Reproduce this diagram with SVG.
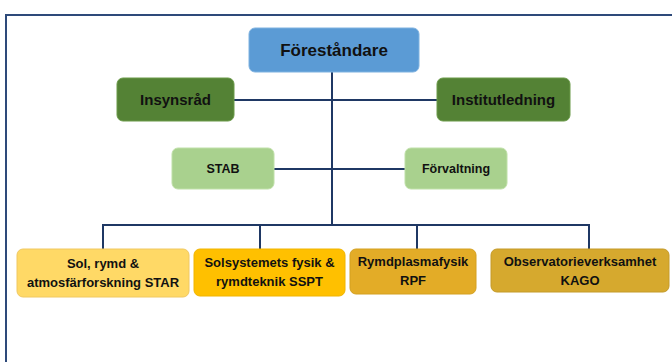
<svg xmlns="http://www.w3.org/2000/svg" width="672" height="362" viewBox="0 0 672 362">
<style>
.t{font-family:"Liberation Sans Narrow","Liberation Sans",Arial,sans-serif;font-weight:bold;text-anchor:middle;fill:#111}
.c{stroke:#1f3864;stroke-width:2;fill:none}
</style>
<rect width="672" height="362" fill="#fff"/>
<path d="M6,380 V15 H690" stroke="#2e4a7a" stroke-width="2" fill="none"/>
<g id="connectors" class="c">
<path d="M332,72 V225"/>
<path d="M234,100 H437"/>
<path d="M274,169 H405"/>
<path d="M103,250 V225 H589 V250"/>
<path d="M260,225 V250"/>
<path d="M417,225 V250"/>
</g>
<g id="forestandare"><rect x="249" y="28" width="170" height="44" rx="6" fill="#5b9bd5" stroke="#7fb2e0"/><text class="t" x="334" y="56" font-size="17">Föreståndare</text></g>
<g id="insynsrad"><rect x="117" y="78" width="117" height="43" rx="6" fill="#548235" stroke="#6a9a48"/><text class="t" x="175.5" y="105" font-size="15">Insynsråd</text></g>
<g id="institutledning"><rect x="437" y="78" width="133" height="43" rx="6" fill="#548235" stroke="#6a9a48"/><text class="t" x="503.5" y="105" font-size="15">Institutledning</text></g>
<g id="stab"><rect x="172" y="148" width="102" height="41" rx="6" fill="#a9d18e" stroke="#bfe0a8"/><text class="t" x="223" y="173" font-size="12.5">STAB</text></g>
<g id="forvaltning"><rect x="405" y="148" width="102" height="41" rx="6" fill="#a9d18e" stroke="#bfe0a8"/><text class="t" x="456" y="173" font-size="12.5">Förvaltning</text></g>
<g id="star"><rect x="17" y="249" width="172" height="48" rx="6" fill="#ffd966" stroke="#f0c860"/><text class="t" x="103" y="268" font-size="13">Sol, rymd &amp;</text><text class="t" x="103" y="287" font-size="13">atmosfärforskning STAR</text></g>
<g id="sspt"><rect x="194" y="249" width="151" height="47" rx="6" fill="#ffc000" stroke="#f0b400"/><text class="t" x="269.5" y="267" font-size="13">Solsystemets fysik &amp;</text><text class="t" x="269.5" y="286" font-size="13">rymdteknik SSPT</text></g>
<g id="rpf"><rect x="350" y="249" width="126" height="45" rx="6" fill="#e3ac27" stroke="#d4a020"/><text class="t" x="413" y="266" font-size="13">Rymdplasmafysik</text><text class="t" x="413" y="285" font-size="13">RPF</text></g>
<g id="kago"><rect x="491" y="249" width="178" height="43" rx="6" fill="#d6a92e" stroke="#c49a28"/><text class="t" x="580" y="266" font-size="13">Observatorieverksamhet</text><text class="t" x="580" y="285" font-size="13">KAGO</text></g>
</svg>
